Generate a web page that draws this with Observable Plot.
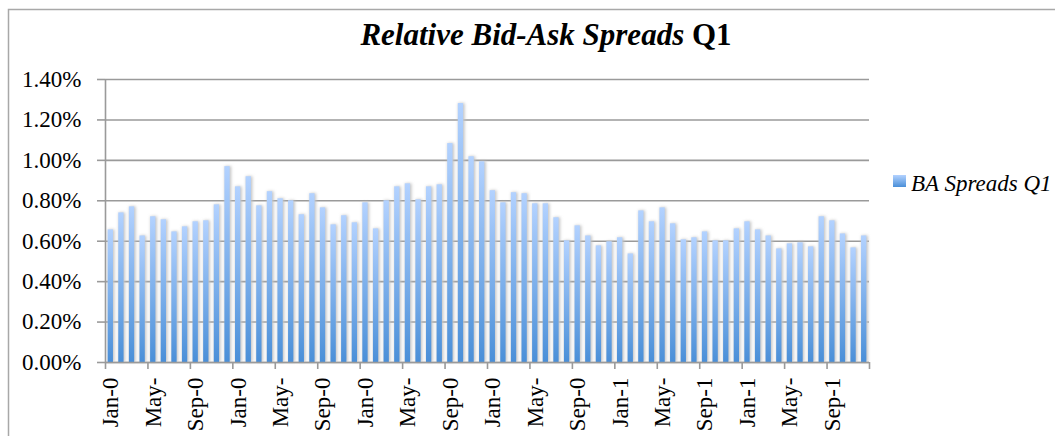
<!DOCTYPE html>
<html><head><meta charset="utf-8">
<script src="https://cdn.jsdelivr.net/npm/d3@7"></script>
<script src="https://cdn.jsdelivr.net/npm/@observablehq/plot@0.6"></script>
<style>
html,body{margin:0;padding:0;background:#fff;}
#chart{position:relative;width:1055px;height:436px;overflow:hidden;}
</style></head><body><div id="chart"></div>
<script>
// Monthly relative bid-ask spreads (72 months)
const spreads = [
  0.00656,0.00740,0.00770,0.00626,0.00721,0.00706,0.00646,0.00671,0.00696,0.00701,0.00780,0.00969,
  0.00869,0.00919,0.00775,0.00845,0.00810,0.00800,0.00731,0.00835,0.00765,0.00681,0.00726,0.00691,
  0.00790,0.00661,0.00800,0.00869,0.00884,0.00805,0.00869,0.00879,0.01083,0.01281,0.01018,0.00993,
  0.00850,0.00790,0.00840,0.00835,0.00785,0.00785,0.00716,0.00602,0.00676,0.00626,0.00577,0.00597,
  0.00617,0.00537,0.00750,0.00696,0.00765,0.00686,0.00607,0.00617,0.00646,0.00602,0.00602,0.00661,
  0.00696,0.00656,0.00626,0.00562,0.00587,0.00592,0.00572,0.00721,0.00701,0.00636,0.00567,0.00626
];
const tickLabels = ["Jan-0","May-","Sep-0","Jan-0","May-","Sep-0","Jan-0","May-","Sep-0",
                    "Jan-0","May-","Sep-0","Jan-1","May-","Sep-1","Jan-1","May-","Sep-1"];
const yTicks = [0,0.002,0.004,0.006,0.008,0.010,0.012,0.014];
const titleMain = "Relative Bid-Ask Spreads";
const titleSuffix = "Q1";
const seriesName = "BA Spreads Q1";

const data = spreads.map((v, i) => ({i, v}));
const boundaries = d3.range(0, spreads.length + 1, 4);
const labelPos = tickLabels.map((_, k) => k * 4 + 0.5);
const font = '"Liberation Serif","Times New Roman",serif';

const svg = Plot.plot({
  width: 1055, height: 436,
  marginTop: 79, marginBottom: 74, marginLeft: 105, marginRight: 186,
  style: {fontFamily: font, fontSize: "23px", color: "#000", background: "#fff", overflow: "visible"},
  x: {type: "linear", domain: [0, spreads.length], axis: null, label: null},
  y: {domain: [0, 0.014], axis: null, label: null},
  marks: [
    Plot.gridY(yTicks, {stroke: "#9a9a9a", strokeOpacity: 1, strokeWidth: 1.6}),
    Plot.axisY({ticks: yTicks, tickFormat: d3.format(".2%"), tickSize: 8, tickPadding: 16, label: null,
                stroke: "#9a9a9a", strokeWidth: 1.6, fill: "#000"}),
    Plot.rectY(data, {x1: d => d.i + 0.2, x2: d => d.i + 0.8, y: "v", fill: "#c4c4c4", dx: 1}),
    Plot.rectY(data, {x1: d => d.i + 0.25, x2: d => d.i + 0.75, y: "v", fill: "url(#barGrad)"}),
    Plot.ruleX([0], {stroke: "#9a9a9a", strokeWidth: 1.6}),
    Plot.ruleY([0], {stroke: "#9a9a9a", strokeWidth: 1.6}),
    Plot.axisX({ticks: boundaries, tickFormat: () => "", tickSize: 7, label: null, stroke: "#9a9a9a", strokeWidth: 1.6}),
    Plot.axisX({ticks: labelPos, tickFormat: d => tickLabels[Math.round((d - 0.5) / 4)], label: null,
                tickSize: 0, tickPadding: 15, tickRotate: -90, fill: "#000"})
  ]
});

const s = d3.select(svg);
const defs = s.insert("defs", ":first-child");
const g = defs.append("linearGradient").attr("id", "barGrad")
  .attr("x1", 0).attr("y1", 0).attr("x2", 0).attr("y2", 1);
g.append("stop").attr("offset", "0%").attr("stop-color", "#b3d2ff");
g.append("stop").attr("offset", "100%").attr("stop-color", "#4a8fd8");
const f = defs.append("filter").attr("id", "shadow").attr("x", "-50%").attr("y", "-10%").attr("width", "200%").attr("height", "120%");
f.append("feGaussianBlur").attr("stdDeviation", 1.6);
const rectGroups = s.selectAll('g[aria-label="rect"]').nodes();
if (rectGroups.length) rectGroups[0].setAttribute("filter", "url(#shadow)");

// outer chart border
s.append("rect").attr("x", 8.5).attr("y", 9.5).attr("width", 1200).attr("height", 600)
  .attr("fill", "none").attr("stroke", "#a8a8a8").attr("stroke-width", 1.5);

// title
const t = s.append("text").attr("x", 546).attr("y", 45)
  .style("text-anchor", "middle").style("font-family", font).style("font-size", "31px")
  .style("font-weight", "bold").style("fill", "#000");
t.append("tspan").style("font-style", "italic").text(titleMain + " ");
t.append("tspan").text(titleSuffix);

// legend
s.append("rect").attr("x", 893).attr("y", 175).attr("width", 13).attr("height", 12).attr("fill", "url(#barGrad)");
s.append("text").attr("x", 911).attr("y", 191)
  .style("text-anchor", "start").style("font-family", font).style("font-size", "23px")
  .style("font-style", "italic").style("fill", "#000").text(seriesName);

document.getElementById("chart").appendChild(svg);
</script></body></html>
